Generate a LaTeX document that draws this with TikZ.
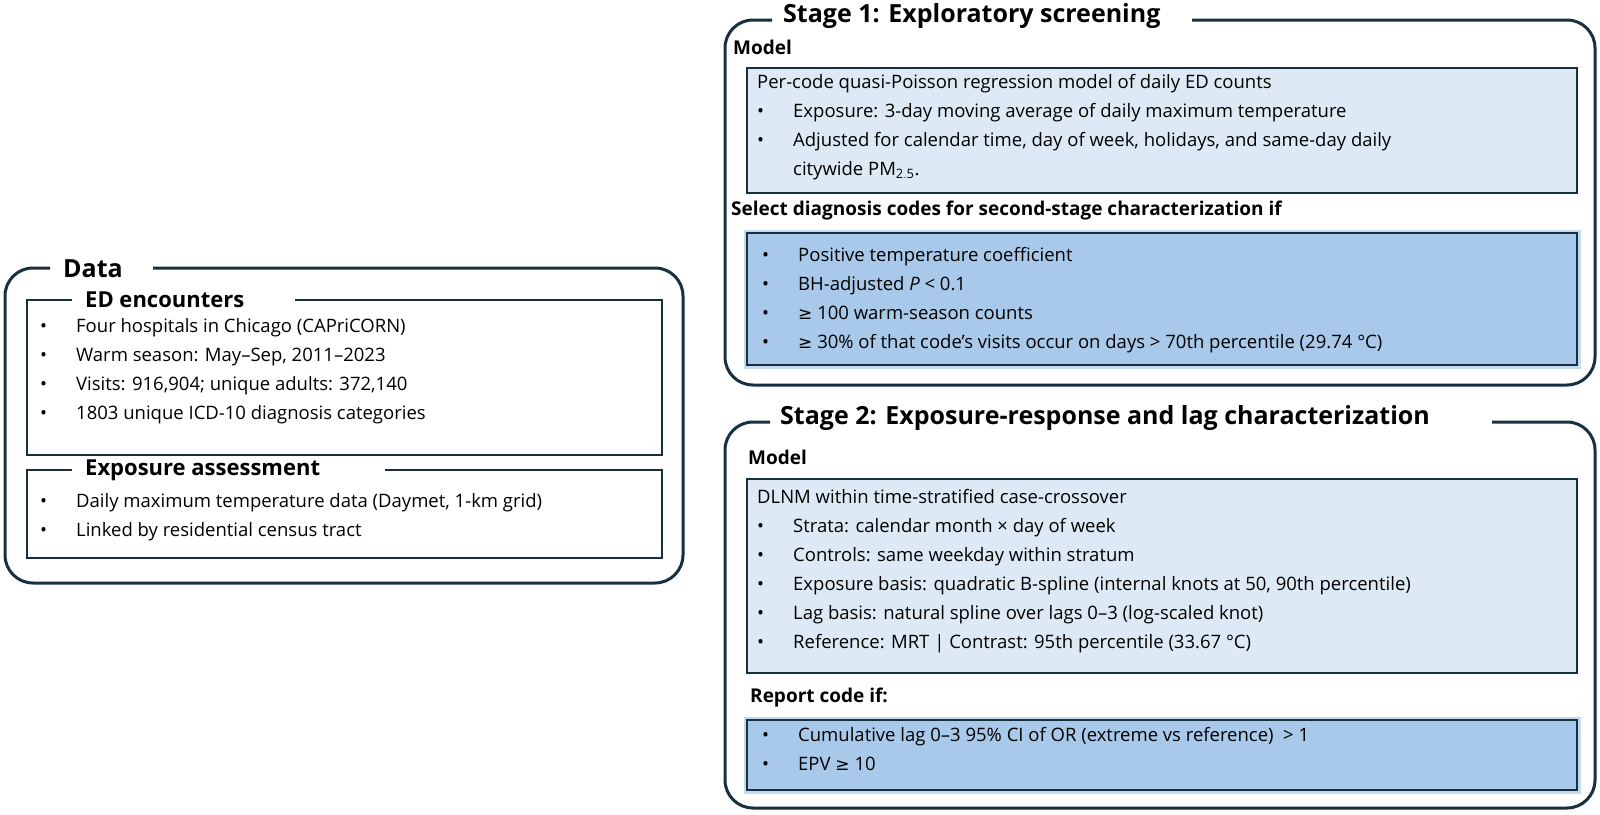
\documentclass[tikz,border=0pt]{standalone}
\usepackage{fontspec}
\setmainfont{Open Sans}
\newfontfamily\symf{DejaVu Sans}
\begin{document}
\begin{tikzpicture}[x=1pt,y=-1pt,
  frame/.style={draw=navy,line width=3pt,rounded corners=28pt},
  ibox/.style={draw=navy,line width=2.6pt},
  lbox/.style={draw=navy,line width=2.4pt,fill=lightb},
  bbox/.style={draw=navy,line width=2.4pt,fill=midb},
  halo/.style={draw=haloc,line width=7pt},
  ttl/.style={anchor=west,font=\fontsize{25}{30}\selectfont\bfseries,inner sep=0pt},
  lab/.style={anchor=west,font=\fontsize{19}{23}\selectfont\bfseries,inner sep=0pt},
  body/.style={anchor=north west,align=left,inner sep=0pt,font=\fontsize{18.5}{29}\selectfont,text=black}]
\definecolor{navy}{HTML}{17303F}
\definecolor{lightb}{HTML}{DDEAF6}
\definecolor{midb}{HTML}{A8C9EA}
\definecolor{haloc}{HTML}{C3DAF0}
\newcommand{\myb}{\makebox[36pt][l]{\textbullet}}
\newcommand{\mygeq}{{\symf\fontsize{17}{20}\selectfont ≥}}
\useasboundingbox (0,0) rectangle (1600,814);
\fill[white] (0,0) rectangle (1600,814);

% ---------- Data ----------
\node[ttl] (tdata) at (63,269) {Data};
\draw[frame] (153,268) -- (683,268) -- (683,583) -- (5,583) -- (5,268) -- (50,268);
\node[ttl,font=\fontsize{22}{26}\selectfont\bfseries] (ted) at (85,300) {ED encounters};
\draw[ibox] (295,300) -- (662,300) -- (662,455) -- (27,455) -- (27,300) -- (72,300);
\node[body] (ed) at (40,318) {\myb Four hospitals in Chicago (CAPriCORN)\\
\myb Warm season: May–Sep, 2011–2023\\
\myb Visits: 916,904; unique adults: 372,140\\
\myb 1803 unique ICD-10 diagnosis categories};
\node[ttl,font=\fontsize{22}{26}\selectfont\bfseries] (tex) at (85,470) {Exposure assessment};
\draw[ibox] (385,470) -- (662,470) -- (662,558) -- (27,558) -- (27,470) -- (72,470);
\node[body] (ex) at (40,493) {\myb Daily maximum temperature data (Daymet, 1-km grid)\\
\myb Linked by residential census tract};

% ---------- Stage 1 ----------
\node[ttl] (ts1) at (783,16) {Stage 1: Exploratory screening};
\draw[frame] (1192,20) -- (1595,20) -- (1595,385) -- (725,385) -- (725,20) -- (772,20);
\node[lab] (m1) at (733,47) {Model};
\draw[lbox] (747,68) rectangle (1577,193);
\node[body] (s1m) at (757,74) {Per-code quasi-Poisson regression model of daily ED counts\\
\myb Exposure: 3-day moving average of daily maximum temperature\\
\myb Adjusted for calendar time, day of week, holidays, and same-day daily\\
\hspace*{36pt}citywide PM$_{\mathrm{2.5}}$.};
\node[lab] (sel) at (731,211) {Select diagnosis codes for second-stage characterization if};
\draw[halo] (747,233) rectangle (1577,365);
\draw[bbox] (747,233) rectangle (1577,365);
\node[body] (s1c) at (762,247) {\myb Positive temperature coefficient\\
\myb BH-adjusted \emph{P} < 0.1\\
\myb \mygeq\ 100 warm-season counts\\
\myb \mygeq\ 30\% of that code’s visits occur on days > 70th percentile (29.74 °C)};

% ---------- Stage 2 ----------
\node[ttl] (ts2) at (780,418) {Stage 2: Exposure-response and lag characterization};
\draw[frame] (1492,422) -- (1595,422) -- (1595,808) -- (725,808) -- (725,422) -- (770,422);
\node[lab] (m2) at (748,457) {Model};
\draw[lbox] (747,479) rectangle (1577,673);
\node[body] (s2m) at (757,489) {DLNM within time-stratified case-crossover\\
\myb Strata: calendar month × day of week\\
\myb Controls: same weekday within stratum\\
\myb Exposure basis: quadratic B-spline (internal knots at 50, 90th percentile)\\
\myb Lag basis: natural spline over lags 0–3 (log-scaled knot)\\
\myb Reference: MRT | Contrast: 95th percentile (33.67 °C)};
\node[lab] (rep) at (750,698) {Report code if:};
\draw[halo] (747,720) rectangle (1577,790);
\draw[bbox] (747,720) rectangle (1577,790);
\node[body] (s2c) at (762,727) {\myb Cumulative lag 0–3 95\% CI of OR (extreme vs reference)\ \ > 1\\
\myb EPV \mygeq\ 10};
\end{tikzpicture}
\end{document}
